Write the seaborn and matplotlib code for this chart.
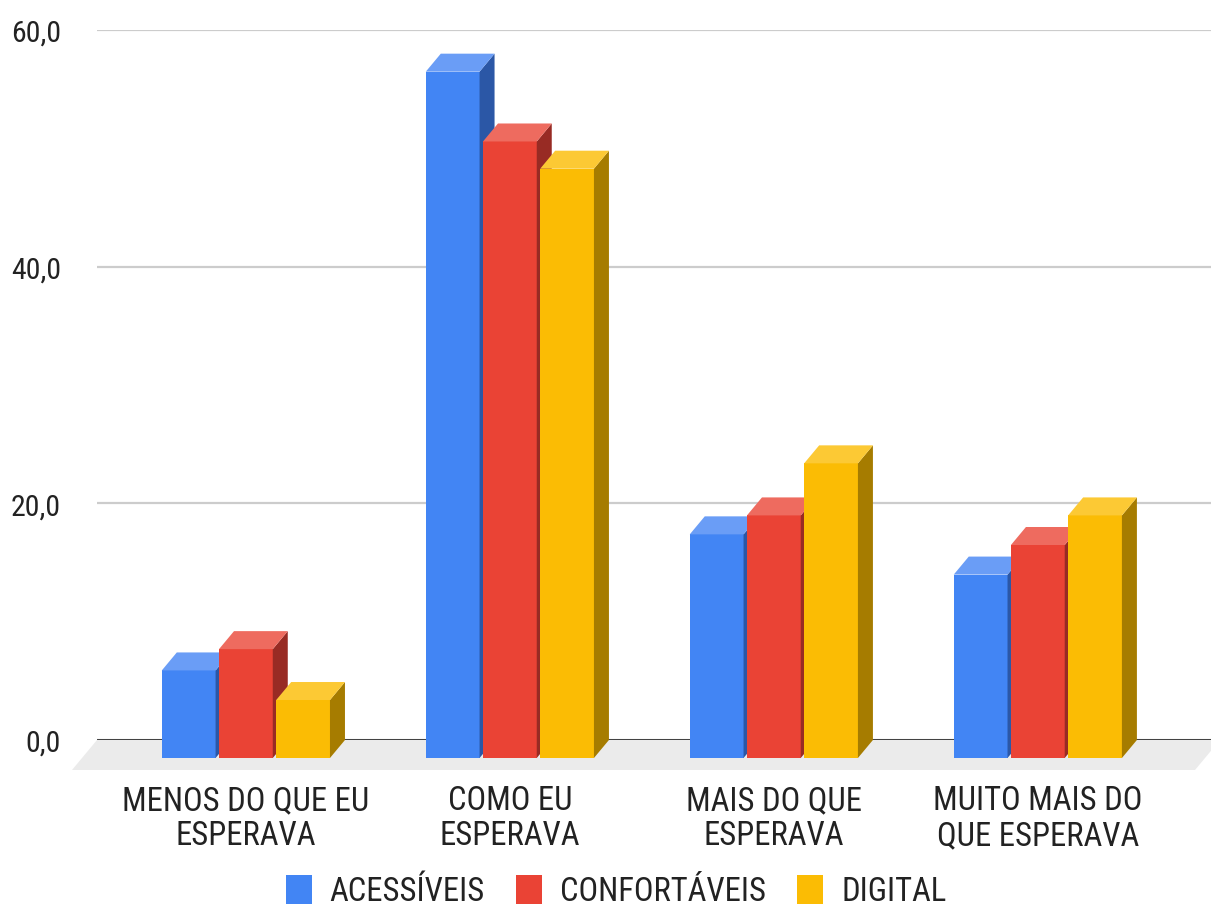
import numpy as np
import pandas as pd
import matplotlib
matplotlib.use("Agg")
import matplotlib.pyplot as plt
import seaborn as sns
from matplotlib.transforms import ScaledTranslation
from matplotlib.patches import Polygon, Patch
from matplotlib import font_manager

# ---- data ----
categories = ["MENOS DO QUE EU\nESPERAVA", "COMO EU\nESPERAVA",
              "MAIS DO QUE\nESPERAVA", "MUITO MAIS DO\nQUE ESPERAVA"]
series = ["ACESSÍVEIS", "CONFORTÁVEIS", "DIGITAL"]
acessiveis = [7.4, 58.0, 18.9, 15.5]
confortaveis = [9.2, 52.1, 20.5, 18.0]
digital = [4.9, 49.8, 24.9, 20.5]
y_ticks = [0, 20, 40, 60]
y_tick_labels = ["0,0", "20,0", "40,0", "60,0"]

front_colors = ["#4285F4", "#EA4335", "#FBBC04"]
top_colors = ["#6A9DF6", "#EE6B5F", "#FCC934"]
side_colors = ["#2B57A6", "#982B24", "#A67C00"]

df = pd.DataFrame({
    "categoria": categories * 3,
    "serie": [s for s in series for _ in categories],
    "valor": acessiveis + confortaveis + digital,
})

sns.set_theme(style="white")
available = {f.name for f in font_manager.fontManager.ttflist}
fam = [f for f in ["Roboto Condensed", "Liberation Sans Narrow", "Roboto"] if f in available]
plt.rcParams["font.family"] = fam + ["DejaVu Sans"]
condensed = bool(fam) and fam[0] in ("Roboto Condensed", "Liberation Sans Narrow")
FS = 23.5 if condensed else 20.5
FS_Y = 21.5 if condensed else 19
TXT = "#222222"

W, H, DPI = 1211, 912, 100
fig = plt.figure(figsize=(W / DPI, H / DPI), dpi=DPI)
ax_l, ax_r, ax_t, ax_b = 97, 1211, 31, 741
ax = fig.add_axes([ax_l / W, (H - ax_b) / H, (ax_r - ax_l) / W, (ax_b - ax_t) / H])

sns.barplot(data=df, x="categoria", y="valor", hue="serie", order=categories,
            hue_order=series, palette=front_colors, width=0.65, gap=0.06,
            saturation=1, linewidth=0, legend=False, ax=ax)

ax.set_xlim(-0.564, 3.656)
ax.set_ylim(0, 60)

# 3D depth (pixels)
DX, DY = 15, 18
px_x = (ax_r - ax_l) / (ax.get_xlim()[1] - ax.get_xlim()[0])
px_y = (ax_b - ax_t) / (ax.get_ylim()[1] - ax.get_ylim()[0])
dx, dy = DX / px_x, DY / px_y
shift_front = ax.transData + ScaledTranslation(0, -DY / DPI, fig.dpi_scale_trans)

for j, cont in enumerate(ax.containers):
    for p in cont.patches:
        x0, w, h = p.get_x(), p.get_width(), p.get_height()
        p.set_transform(shift_front)
        p.set_clip_on(False)
        p.set_zorder(3 + j)
        side = Polygon([(x0 + w, h - dy), (x0 + w, -dy), (x0 + w + dx, 0), (x0 + w + dx, h)],
                       closed=True, facecolor=side_colors[j], edgecolor="none",
                       zorder=3 + j, clip_on=False)
        top = Polygon([(x0, h - dy), (x0 + w, h - dy), (x0 + w + dx, h), (x0 + dx, h)],
                      closed=True, facecolor=top_colors[j], edgecolor="none",
                      zorder=3 + j, clip_on=False)
        ax.add_patch(side)
        ax.add_patch(top)

# floor
aw, ah = ax_r - ax_l, ax_b - ax_t
floor = Polygon([(0, 0), (1 + 9 / aw, 0), (1 - 16 / aw, -30 / ah), (-25 / aw, -30 / ah)],
                closed=True, transform=ax.transAxes, facecolor="#ebebeb",
                edgecolor="none", zorder=0.5, clip_on=False)
ax.add_patch(floor)

# grid
ax.set_yticks(y_ticks)
ax.set_yticklabels(y_tick_labels)
ax.yaxis.grid(True, color="#cccccc", lw=1.6, zorder=1)
ax.set_axisbelow(True)
ax.axhline(0, color="#333333", lw=2, zorder=2)

for s in ax.spines.values():
    s.set_visible(False)
ax.set_xlabel("")
ax.set_ylabel("")
ax.tick_params(axis="y", length=0, pad=26, labelsize=FS_Y, labelcolor=TXT)
ax.tick_params(axis="x", length=0, pad=32, labelsize=FS, labelcolor=TXT)
for t in ax.get_xticklabels():
    t.set_linespacing(1.12)
ax.set_facecolor("white")

handles = [Patch(facecolor=c, edgecolor="none") for c in front_colors]
fig.legend(handles=handles, labels=series, loc="center",
           bbox_to_anchor=(616 / W, 20 / H), ncol=3, frameon=False,
           fontsize=FS, handlelength=0.8, handleheight=1.0,
           handletextpad=0.55, columnspacing=0.95, borderaxespad=0,
           labelcolor=TXT)

fig.savefig("out.png", dpi=DPI, facecolor="white")
